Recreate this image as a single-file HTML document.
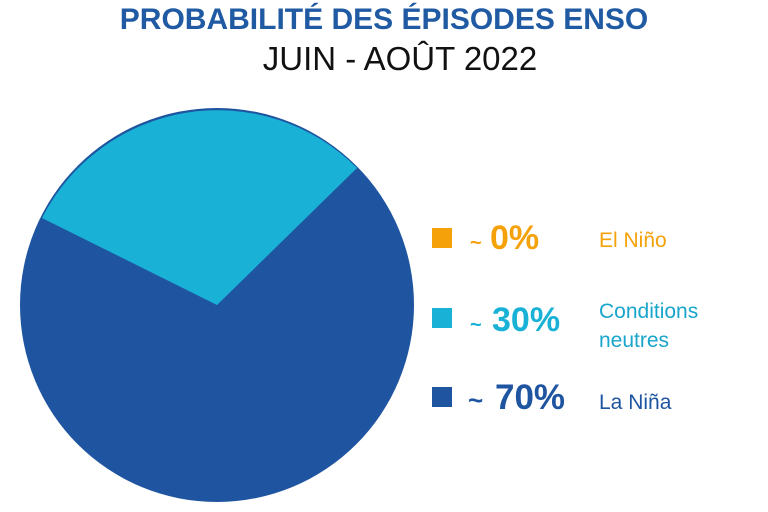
<!DOCTYPE html>
<html><head><meta charset="utf-8"><style>
body{margin:0;width:768px;height:512px;background:#fff;overflow:hidden;position:relative;font-family:"Liberation Sans","DejaVu Sans",sans-serif}
.t{position:absolute;white-space:nowrap}
</style></head><body>
<div class="t" style="left:0;width:768px;text-align:center;top:3px;font-size:30px;font-weight:bold;color:#1f5aa3;">PROBABILITÉ DES ÉPISODES ENSO</div>
<div class="t" style="left:0;width:800px;text-align:center;top:40px;font-size:33px;color:#111;">JUIN - AOÛT 2022</div>
<svg class="t" style="left:0;top:0" width="768" height="512">
<circle cx="217" cy="305" r="197" fill="#1f55a0"/>
<path d="M217,305 L42,218 A197,197 0 0 1 357,168 Z" fill="#19b2d6"/>
<rect x="432" y="228" width="20" height="20" fill="#f5a20a"/>
<rect x="432" y="308" width="20" height="20" fill="#19b2d6"/>
<rect x="432" y="387" width="20" height="20" fill="#1f55a0"/>
<g font-weight="bold" font-family="Liberation Sans, sans-serif">
<text x="470" y="249" font-size="20" fill="#f5a20a">~</text><text x="490" y="249" font-size="34" fill="#f5a20a">0%</text>
<text x="470" y="331" font-size="20" fill="#19b2d6">~</text><text x="492" y="331" font-size="34" fill="#19b2d6">30%</text>
<text x="468" y="409" font-size="26" fill="#1f55a0">~</text><text x="495" y="409" font-size="35" fill="#1f55a0">70%</text>
</g>
<g font-size="21" font-family="Liberation Sans, sans-serif">
<text x="599" y="247" fill="#f5a20a">El Niño</text>
<text x="599" y="318" fill="#19a5cc">Conditions</text>
<text x="599" y="347" fill="#19a5cc">neutres</text>
<text x="599" y="409" fill="#1f55a0">La Niña</text>
</g>
</svg>
</body></html>
